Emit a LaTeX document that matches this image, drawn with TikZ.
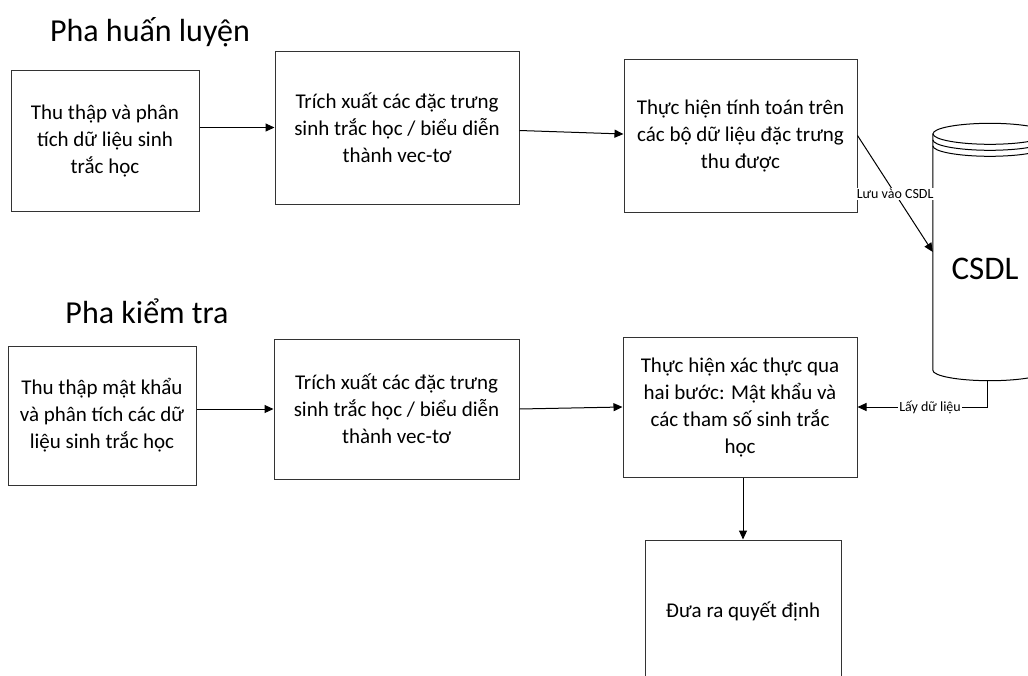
\documentclass[tikz,border=0pt]{standalone}
\usepackage{fontspec}
\setmainfont{Carlito}
\usetikzlibrary{positioning,arrows.meta}

\begin{document}
\begin{tikzpicture}[
        x=1pt, y=-1pt,
        font=\fontsize{21}{27}\selectfont,
        stepbox/.style={rectangle, draw=black!80, line width=1pt, text centered, align=center, inner sep=4pt},
        dbline/.style={draw=black, line width=1pt},
        arrow/.style={line width=1pt, -{Triangle[length=9pt, width=8pt]}, color=black},
        edgelabel/.style={fill=white, inner sep=1pt, font=\fontsize{14}{16}\selectfont},
        phase/.style={font=\fontsize{32}{36}\selectfont}
    ]
    \useasboundingbox (0,0) rectangle (1028,675);

        % --- Training phase ---
        \node (trainlabel) [phase] at (150,32) {Pha huấn luyện};
        \node (collect) [stepbox, minimum width=188pt, minimum height=141pt] at (105,140.5) {Thu thập và phân\\tích dữ liệu sinh\\trắc học};
        \node (extract) [stepbox, minimum width=244pt, minimum height=153pt, right=75pt of collect, yshift=13pt] {Trích xuất các đặc trưng\\sinh trắc học / biểu diễn\\thành vec-tơ};
        \node (compute) [stepbox, minimum width=233pt, minimum height=153pt, right=104pt of extract, yshift=-8pt] {Thực hiện tính toán trên\\các bộ dữ liệu đặc trưng\\thu được};

        % --- Database ---
        \node (db) [minimum width=114pt, minimum height=236pt, inner sep=0pt] at (990,252) {};
        \draw [dbline, fill=white] (db.north west) -- (db.south west) arc[start angle=180, end angle=360, x radius=57pt, y radius=10.5pt] -- (db.north east);
        \draw [dbline] (db.north) ellipse[x radius=57pt, y radius=10.5pt];
        \draw [dbline] ([yshift=-6pt]db.north west) arc[start angle=180, end angle=360, x radius=57pt, y radius=10.5pt];
        \draw [dbline] ([yshift=-12pt]db.north west) arc[start angle=180, end angle=360, x radius=57pt, y radius=10.5pt];
        \node (dbtext) [font=\fontsize{33}{38}\selectfont] at ([xshift=-5pt, yshift=-17pt]db.center) {CSDL};
        \coordinate (dbbase) at ([xshift=-3pt, yshift=-10.5pt]db.south);

        % --- Testing phase ---
        \node (testlabel) [phase] at (147,311) {Pha kiểm tra};
        \node (login) [stepbox, minimum width=188pt, minimum height=139pt] at (102,415.5) {Thu thập mật khẩu\\và phân tích các dữ\\liệu sinh trắc học};
        \node (extract2) [stepbox, minimum width=245pt, minimum height=140pt, right=77pt of login, yshift=6.5pt] {Trích xuất các đặc trưng\\sinh trắc học / biểu diễn\\thành vec-tơ};
        \node (verify) [stepbox, minimum width=234pt, minimum height=140pt, right=103pt of extract2, yshift=2pt] {Thực hiện xác thực qua\\hai bước: Mật khẩu và\\các tham số sinh trắc\\học};
        \node (decide) [stepbox, minimum width=196pt, minimum height=142pt, below=62pt of verify, xshift=3pt] {Đưa ra quyết định};

        % --- Connections ---
        \draw [arrow] (collect.east |- extract.west) -- (extract.west);
        \draw [arrow] ([yshift=-3pt]extract.east) -- ([yshift=1.5pt]compute.west);
        \draw [arrow] (compute.east) -- node[edgelabel] {Lưu vào CSDL} (db.west);

        \draw [arrow] (login.east |- extract2.west) -- (extract2.west);
        \draw [arrow] (extract2.east) -- (verify.west);
        \draw [arrow] (dbbase) |- node[edgelabel, pos=0.72] {Lấy dữ liệu} (verify.east);
        \draw [arrow] (verify.south -| decide.north) -- (decide.north);

\end{tikzpicture}
\end{document}
